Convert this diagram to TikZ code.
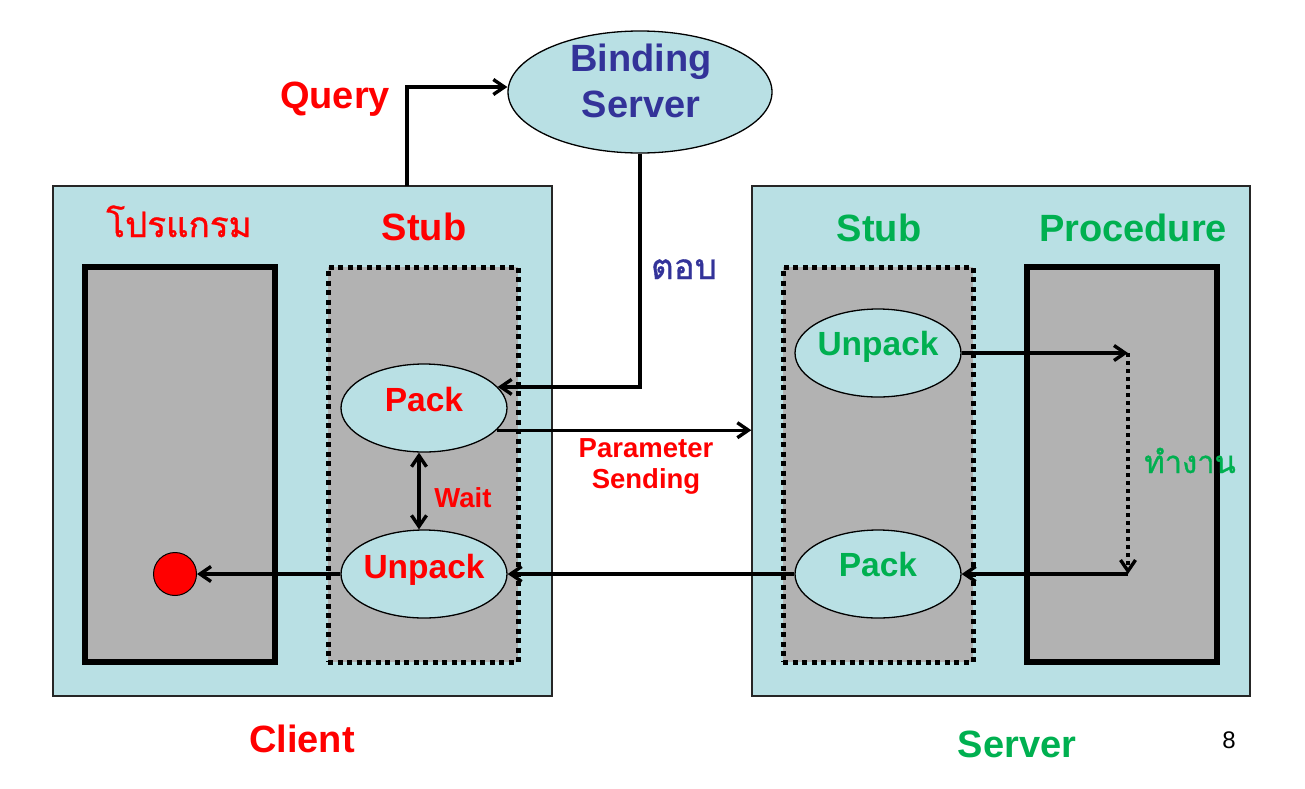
\documentclass[tikz,border=0pt]{standalone}
\usepackage{fontspec}
\setmainfont{Liberation Sans}
\newfontfamily\thaifont[Script=Thai,FakeBold=1.0]{Loma}
\usetikzlibrary{arrows.meta,shapes.geometric}
\definecolor{lblue}{RGB}{185,224,228}
\definecolor{boxgray}{RGB}{178,178,178}
\definecolor{pgreen}{RGB}{0,176,80}
\definecolor{pblue}{RGB}{51,51,153}
\definecolor{pred}{RGB}{255,0,0}
\newcommand\fbig{\fontsize{38}{44}\selectfont\bfseries}
\newcommand\fmid{\fontsize{33.5}{38}\selectfont\bfseries}
\newcommand\fsml{\fontsize{27.5}{31}\selectfont\bfseries}
\begin{document}
\begin{tikzpicture}[x=1pt,y=-1pt,
  machine/.style={draw=black!85,line width=1.3pt,fill=lblue,rectangle,inner sep=0pt},
  progbox/.style={draw=black,line width=5.5pt,fill=boxgray,rectangle,inner sep=0pt,minimum width=190pt,minimum height=395pt},
  stubbox/.style={draw=black,line width=5pt,dash pattern=on 5pt off 4.5pt,fill=boxgray,rectangle,inner sep=0pt,minimum width=190pt,minimum height=395pt},
  ell/.style={ellipse,draw=black,line width=1.3pt,fill=lblue,inner sep=0pt,minimum width=166pt,minimum height=88pt},
  lbl/.style={inner sep=0pt,anchor=base},
  arr/.style={line width=3.4pt,-{Straight Barb[length=11pt,width=15pt]}},
  darr/.style={line width=3.4pt,{Straight Barb[length=11pt,width=15pt]}-{Straight Barb[length=11pt,width=15pt]}},
  dotarr/.style={line width=3.4pt,dash pattern=on 4pt off 4pt,-{Straight Barb[length=11pt,width=15pt]}}
]
\useasboundingbox (0,0) rectangle (1305,788);
% machines
\node[machine,minimum width=499pt,minimum height=510pt] (client) at (302.5,441) {};
\node[machine,minimum width=498pt,minimum height=510pt] (server) at (1001,441) {};
% inner boxes
\node[progbox] (prog) at (180,464.5) {};
\node[stubbox] (cstub) at (423,464.5) {};
\node[stubbox] (sstub) at (878,464.5) {};
\node[progbox] (proc) at (1122,464.5) {};
% titles
\node[lbl,text=pred] (progt) at (179,237) {\thaifont\fontsize{35}{38}\selectfont โปรแกรม};
\node[lbl,text=pred] (cstubt) at (424,240) {\fbig Stub};
\node[lbl,text=pgreen] (sstubt) at (879,241) {\fbig Stub};
\node[lbl,text=pgreen] (proct) at (1133,241) {\fbig Procedure};
\node[lbl,text=pred] (clientt) at (302,752) {\fbig Client};
\node[lbl,text=pgreen] (servert) at (1017,757) {\fbig Server};
\node[lbl] (pagenum) at (1229,748) {\fontsize{24}{28}\selectfont 8};
% binding server
\node[ellipse,draw=black,line width=1.3pt,fill=lblue,inner sep=0pt,minimum width=264pt,minimum height=122pt] (binding) at (640,92) {};
\node[lbl,text=pblue] (bindingt) at (641,71) {\fbig Binding};
\node[lbl,text=pblue] (bindingt2) at (641,117) {\fbig Server};
\node[lbl,text=pred] (queryt) at (335,108) {\fbig Query};
\node[lbl,text=pblue] (answert) at (684,279) {\thaifont\fontsize{35}{38}\selectfont ตอบ};
% ellipses
\node[ell] (cpack) at (424,408) {};
\node[ell] (cunpack) at (424,574) {};
\node[ell] (sunpack) at (878,353) {};
\node[ell] (spack) at (878,574) {};
\node[lbl,text=pred] (cpackt) at (424,411) {\fmid Pack};
\node[lbl,text=pred] (cunpackt) at (424,578) {\fmid Unpack};
\node[lbl,text=pgreen] (sunpackt) at (878,355) {\fmid Unpack};
\node[lbl,text=pgreen] (spackt) at (878,576) {\fmid Pack};
% dot
\node[circle,draw=black,line width=1pt,fill=pred,minimum size=43pt,inner sep=0pt] (dot) at (175,574) {};
% other labels
\node[lbl,text=pred] (paramt) at (646,457) {\fsml Parameter};
\node[lbl,text=pred] (paramt2) at (646,488) {\fsml Sending};
\node[lbl,text=pred] (waitt) at (463,507) {\fsml Wait};
\node[lbl,text=pgreen] (workt) at (1190,473) {\thaifont\fontsize{31}{34}\selectfont ทำงาน};
% coordinates
\coordinate (q0) at (407,186);
\coordinate (w1) at (1128,353);
\coordinate (w2) at (1128,574);
% connectors
\draw[arr] (q0) |- ([yshift=5pt]binding.west);
\draw[arr] (binding.south) |- (cpack.16);
\draw[arr] (cpack.-17) -- (cpack.-17 -| server.west);
\draw[darr] ([xshift=-5pt]cpack.south) -- ([xshift=-5pt]cunpack.north);
\draw[arr] (spack.west) -- (cunpack.east);
\draw[arr] (cunpack.west) -- (dot.east);
\draw[arr] (sunpack.east) -- (w1);
\draw[dotarr] (w1) -- (w2);
\draw[arr] (w2) -- (spack.east);
\end{tikzpicture}
\end{document}
